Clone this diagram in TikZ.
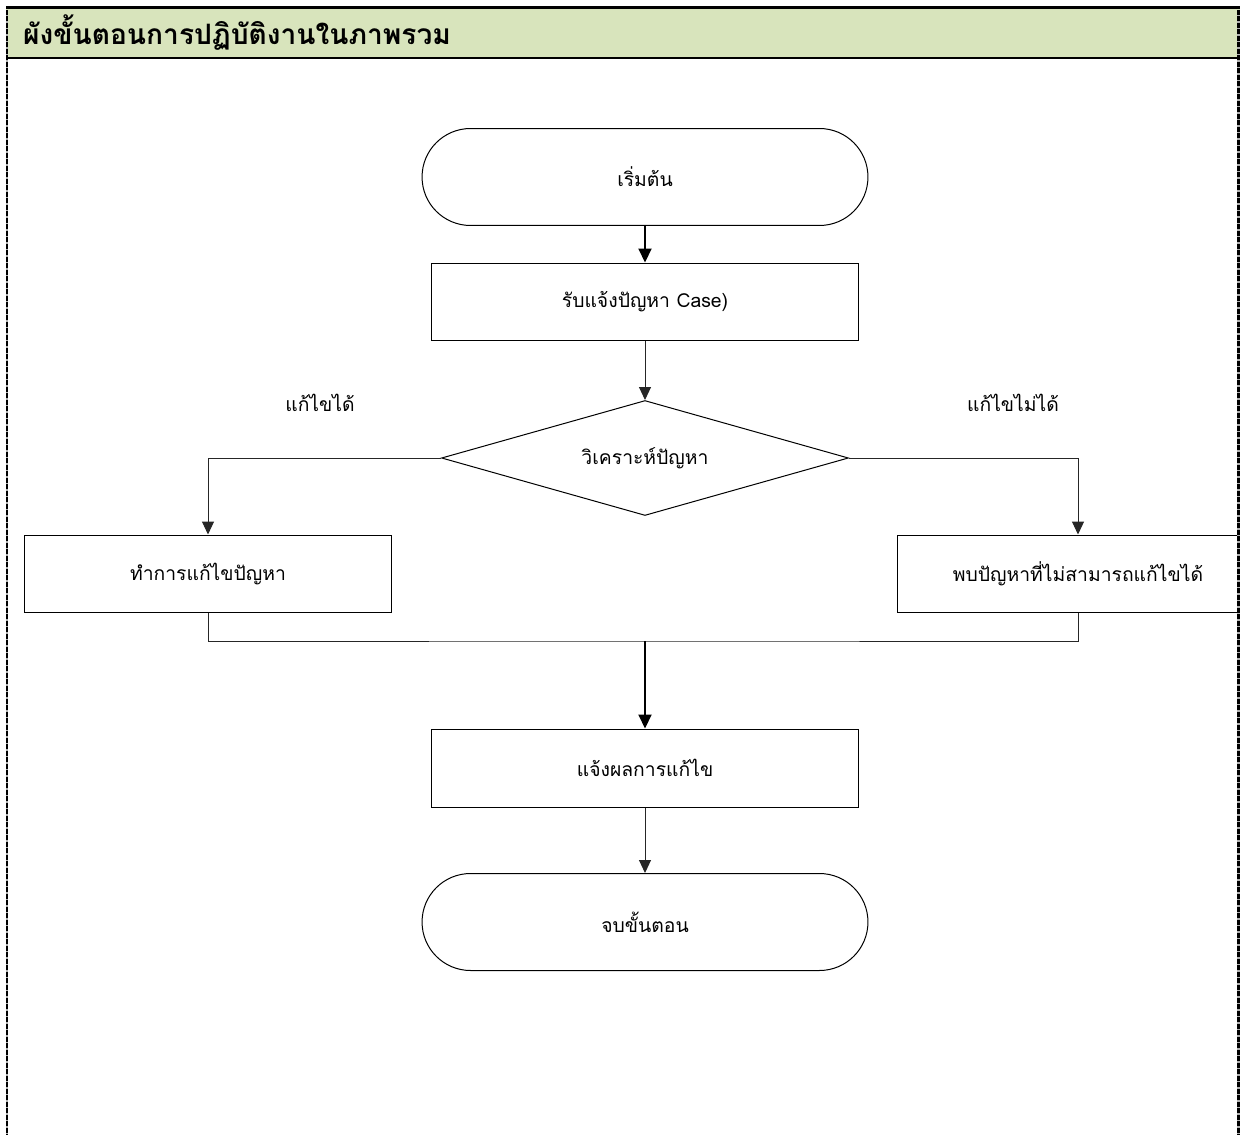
\documentclass[tikz,border=0pt]{standalone}
\usepackage{fontspec}
\setmainfont[Script=Thai]{Loma}
\usepackage{xcolor}
\usepackage{tikz}
\usetikzlibrary{shapes.geometric, arrows.meta, positioning, calc, shapes.misc}
\definecolor{headgreen}{RGB}{216,228,188}
\tikzset{
    terminal/.style={
        rectangle,
        rounded corners=0.97cm,
        draw=black,
        line width=0.02cm,
        minimum width=8.92cm,
        minimum height=1.94cm,
        fill=white,
        font=\fontsize{11}{13}\selectfont
    },
    process/.style={
        rectangle,
        draw=black,
        line width=0.02cm,
        minimum width=8.54cm,
        minimum height=1.56cm,
        fill=white,
        font=\fontsize{11}{13}\selectfont
    },
    decision/.style={
        diamond,
        aspect=3.54,
        draw=black,
        line width=0.02cm,
        minimum width=8.14cm,
        minimum height=2.3cm,
        inner sep=0pt,
        fill=white,
        font=\fontsize{11}{13}\selectfont
    },
    branchlabel/.style={
        font=\fontsize{11}{13}\selectfont
    },
    wire/.style={
        draw=black!85,
        line width=0.02cm,
        -{Triangle[width=0.24cm,length=0.26cm]}
    },
    thickwire/.style={
        draw=black,
        line width=0.04cm,
        -{Triangle[width=0.26cm,length=0.28cm]}
    },
    line/.style={
        draw=black!85,
        line width=0.02cm
    },
    frame/.style={
        draw=black,
        line width=0.06cm,
        dash pattern=on 0.1cm off 0.03cm
    }
}
\begin{document}
\begin{tikzpicture}[x=0.02cm, y=-0.02cm]
\useasboundingbox (0,0) rectangle (1240,1135);

% Header band
\fill[headgreen] (6,8) rectangle (1240,58);
\node[anchor=west, font=\fontsize{16}{19}\selectfont\bfseries] (title) at (17,33) {ผังขั้นตอนการปฏิบัติงานในภาพรวม};
\draw[line width=0.06cm] (6,8) -- (1240,8);
\draw[line width=0.04cm] (6,58) -- (1240,58);

% Flow nodes
\node[terminal] (start) at (645,177) {เริ่มต้น};
\node[process] (receive) at (645,302) {รับแจ้งปัญหา Case)};
\node[decision] (analyse) at (645,458) {วิเคราะห์ปัญหา};
\node[process, minimum width=7.36cm] (fix) at (208,574) {ทำการแก้ไขปัญหา};
\node[process, minimum width=7.24cm] (unfixable) at (1078,574) {พบปัญหาที่ไม่สามารถแก้ไขได้};
\node[process] (report) at (645,768) {แจ้งผลการแก้ไข};
\node[terminal] (finish) at (645,922) {จบขั้นตอน};

% Branch labels
\node[branchlabel] (yeslabel) at (320,403) {แก้ไขได้};
\node[branchlabel] (nolabel) at (1013,403) {แก้ไขไม่ได้};

\coordinate (merge) at (645,641);

% Connectors
\draw[thickwire] (start) -- (receive);
\draw[wire] (receive) -- (analyse);
\draw[wire] (analyse.west) -| (fix.north);
\draw[wire] (analyse.east) -| (unfixable.north);
\draw[line] (fix.south) |- (merge) -| (unfixable.south);
\draw[thickwire] (merge) -- (report);
\draw[wire] (report) -- (finish);

% Dashed page frame
\draw[gray!60, line width=0.06cm] (7,10) -- (7,1135);
\draw[frame] (7,10) -- (7,1135);
\draw[gray!60, line width=0.06cm] (1238,10) -- (1238,1135);
\draw[frame] (1238,10) -- (1238,1135);

\end{tikzpicture}
\end{document}
